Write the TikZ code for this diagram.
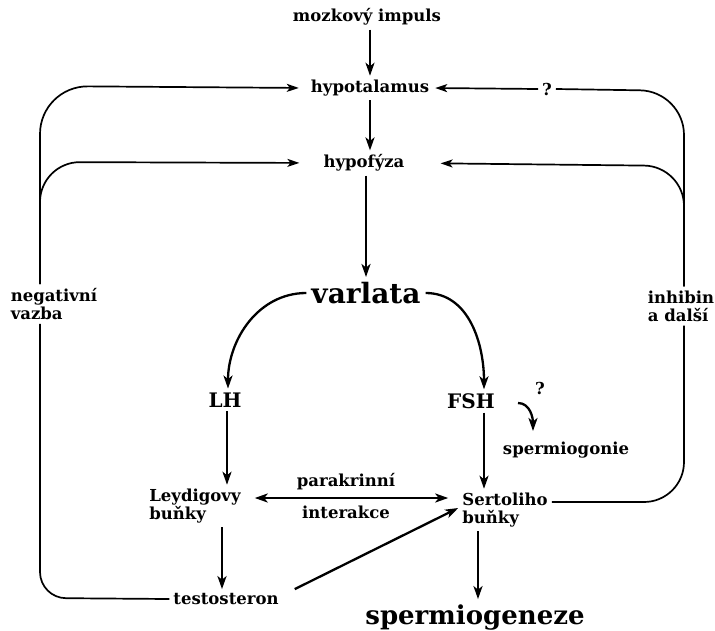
\documentclass[tikz,border=0pt]{standalone}
\usepackage{fontspec}
\setmainfont{DejaVu Serif}
\usetikzlibrary{positioning,arrows.meta}

\begin{document}
\begin{tikzpicture}[x=1pt,y=-1pt,->,>={Stealth[length=13pt,width=9pt,inset=3.5pt]},line width=2.3pt,
    lbl/.style={font=\bfseries\fontsize{16.5}{18}\selectfont,inner sep=3pt},
    pair/.style={lbl,align=left},
    hormone/.style={font=\bfseries\fontsize{20}{23}\selectfont,inner sep=3pt},
    big node/.style={font=\bfseries\fontsize{28}{32}\selectfont,inner sep=4pt},
    back/.style={line width=1.7pt,>={Stealth[length=12pt,width=8pt,inset=3pt]}}]
  \useasboundingbox (0,0) rectangle (715,630);

  \node[lbl] (impuls) at (367,17) {mozkový impuls};
  \node[lbl] (hypot) at (370,88) {hypotalamus};
  \node[lbl] (hypof) at (364,163) {hypofýza};
  \node[big node] (varlata) at (366,293) {varlata};
  \node[hormone] (lh) at (225,400) {LH};
  \node[hormone] (fsh) at (471,401) {FSH};
  \node[lbl] (qfsh) at (540,388) {?};
  \node[lbl] (sgonie) at (566,450) {spermiogonie};
  \node[pair] (leydig) at (195,506) {Leydigovy\\buňky};
  \node[lbl] (parakr) at (346,482) {parakrinní};
  \node[lbl] (interakce) at (346,512) {interakce};
  \node[pair] (sertoli) at (505,510) {Sertoliho\\buňky};
  \node[lbl] (testost) at (226,599) {testosteron};
  \node[big node,font=\bfseries\fontsize{26}{30}\selectfont] (sgeneze) at (475,617) {spermiogeneze};
  \node[pair] (negvazba) at (54,304) {negativní\\vazba};
  \node[pair] (inhibin) at (681,306) {inhibin\\a další};
  \node[lbl] (qtop) at (547,89) {?};

  % bends of the feedback loops
  \coordinate (lbot) at (40,598);
  \coordinate (ltop) at (40,86);
  \coordinate (lmid) at (40,162);
  \coordinate (rbot) at (684,502);
  \coordinate (rtop) at (684,91);
  \coordinate (rmid) at (684,166);
  \coordinate (qa) at (518,403);
  \coordinate (qb) at (533,431);

  \draw (impuls.south -| hypot) -- (hypot.north);
  \draw (hypot.south) -- (hypot.south |- hypof.north);
  \draw ([xshift=2pt]hypof.south) -- ([xshift=2pt]hypof.south |- varlata.north);
  \draw (varlata.west) to[out=180,in=90] ([xshift=3pt]lh.north);
  \draw (varlata.east) to[out=0,in=90] ([xshift=13pt]fsh.north);
  \draw ([xshift=2pt]lh.south) -- ([xshift=2pt]lh.south |- leydig.north);
  \draw ([xshift=13pt]fsh.south) -- ([xshift=13pt]fsh.south |- sertoli.north);
  \draw[<->,shorten <=10pt,shorten >=10pt] ([yshift=8pt]leydig.east) -- ([yshift=8pt]leydig.east -| sertoli.west);
  \draw ([xshift=-3pt]lh.south |- leydig.south) -- ([xshift=-3pt]lh.south |- testost.north);
  \draw ([xshift=12pt]testost.north east) -- ([yshift=2pt]sertoli.west);
  \draw ([xshift=-27pt]sertoli.south) -- ([xshift=-27pt]sertoli.south |- sgeneze.north);
  \draw (qa) to[out=0,in=90] (qb);

  % negativni vazba
  \draw[back,-,rounded corners=26pt] (testost.west) -- (lbot) -- (negvazba.south -| lbot);
  \draw[back,rounded corners=48pt,shorten >=8pt] (negvazba.north -| lbot) -- (ltop) -- (hypot.west);
  \draw[back,rounded corners=40pt,shorten >=20pt] (negvazba.north -| lbot) -- (lmid) -- (hypof.west);

  % inhibin a dalsi
  \draw[back,-,rounded corners=40pt] ([yshift=8pt]sertoli.east) -- (rbot) -- (inhibin.south -| rbot);
  \draw[back,-,rounded corners=44pt] (inhibin.north -| rbot) -- (rtop) -- (qtop.east);
  \draw[back,shorten >=2pt] (qtop.west) -- (hypot.east);
  \draw[back,rounded corners=40pt,shorten >=32pt] (inhibin.north -| rbot) -- (rmid) -- (hypof.east);
\end{tikzpicture}
\end{document}
